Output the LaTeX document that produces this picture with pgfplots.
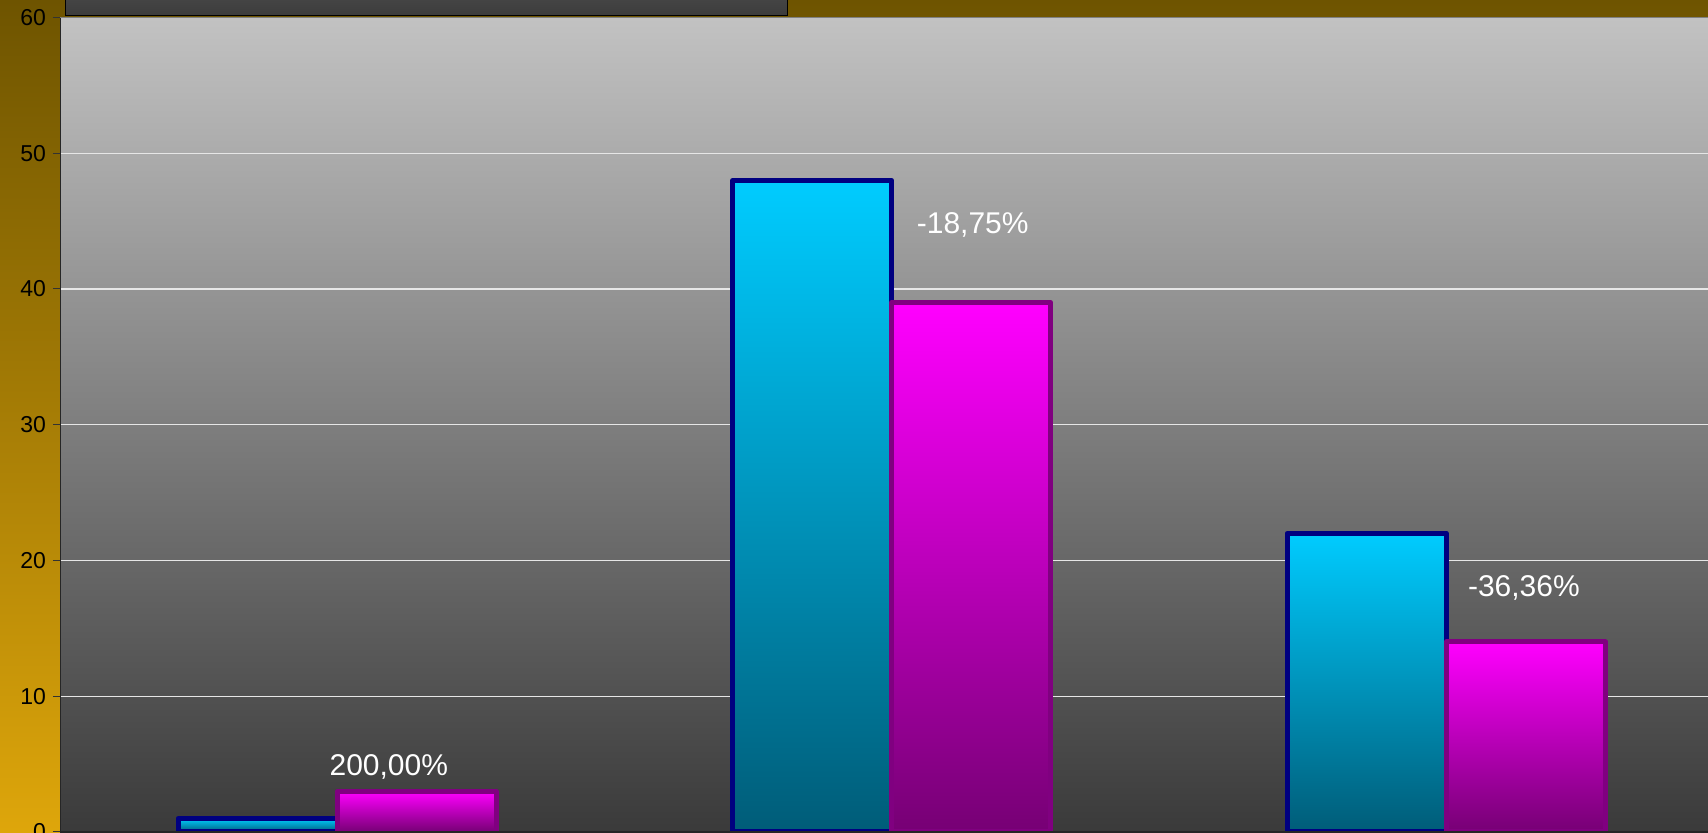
\documentclass[border=0pt]{standalone}
\usepackage{pgfplots}
\pgfplotsset{compat=1.18}
\usepackage{fontspec}
\setmainfont{Liberation Sans}
\definecolor{bgtop}{HTML}{6E5400}
\definecolor{bgbot}{HTML}{DEA60B}
\definecolor{pltop}{HTML}{C2C2C2}
\definecolor{plbot}{HTML}{3A3A3A}
\definecolor{cyT}{HTML}{00CCFF}
\definecolor{cyB}{HTML}{005C78}
\definecolor{cyE}{HTML}{000080}
\definecolor{mgT}{HTML}{FF00FF}
\definecolor{mgB}{HTML}{760074}
\definecolor{mgE}{HTML}{800080}
\definecolor{gridc}{HTML}{E6E6E6}
\definecolor{lgT}{HTML}{4C4C4C}
\definecolor{lgB}{HTML}{3C3C3C}
\pgfplotsset{
  cybar/.style={ybar, bar width=0.287, bar shift=-0.1435, draw=cyE, line width=2.5pt,
    line join=round, top color=cyT, bottom color=cyB},
  mgbar/.style={ybar, bar width=0.287, bar shift=0.1435, draw=mgE, line width=2.5pt,
    line join=round, top color=mgT, bottom color=mgB},
}
\begin{document}
\begin{tikzpicture}
\useasboundingbox (-30pt,-0.5pt) rectangle (824pt,416pt);
\begin{scope}
\clip (-30pt,-0.5pt) rectangle (824pt,416pt);
\shade[top color=bgtop, bottom color=bgbot] (-30pt,-0.5pt) rectangle (824pt,416pt);
\begin{axis}[
  scale only axis, width=824pt, height=407.25pt,
  xmin=0.5, xmax=3.472, ymin=0, ymax=60,
  axis background/.style={shade, top color=pltop, bottom color=plbot},
  axis line style={draw=none},
  ytick={0,10,...,60}, xtick=\empty,
  ytick pos=left, tick align=outside, major tick length=3.5pt,
  ytick style={color=black!80, line width=0.5pt},
  ymajorgrids, grid style={color=gridc, line width=0.6pt},
  /pgf/number format/assume math mode=true,
  yticklabel style={font=\fontsize{11.5}{13}\selectfont, color=black},
]
% series 1 (cyan), one bar per plot so that each bar has its own gradient
\addplot[cybar] coordinates {(1,1)};
\addplot[cybar] coordinates {(2,48)};
\addplot[cybar] coordinates {(3,22)};
% series 2 (magenta)
\addplot[mgbar] coordinates {(1,3)};
\addplot[mgbar] coordinates {(2,39)};
\addplot[mgbar] coordinates {(3,14)};
% change labels
\addplot[only marks, mark=none, nodes near coords, point meta=explicit symbolic,
  nodes near coords style={font=\fontsize{15}{18}\selectfont, color=white, anchor=center}]
  coordinates {(1.093,4.8) [{200,00\%}] (2.146,44.75) [{-18,75\%}] (3.14,18.0) [{-36,36\%}]};
\end{axis}
\draw[black!85, line width=0.5pt] (0,0) -- (0,407.25pt);
\draw[black!85, line width=0.8pt] (0,0) -- (824pt,0);
\draw[gray, line width=0.6pt] (0,407.25pt) -- (824pt,407.25pt);
\draw[black, line width=0.5pt, top color=lgT, bottom color=lgB] (2.5pt,408pt) rectangle (363.5pt,425pt);
\end{scope}
\end{tikzpicture}
\end{document}
